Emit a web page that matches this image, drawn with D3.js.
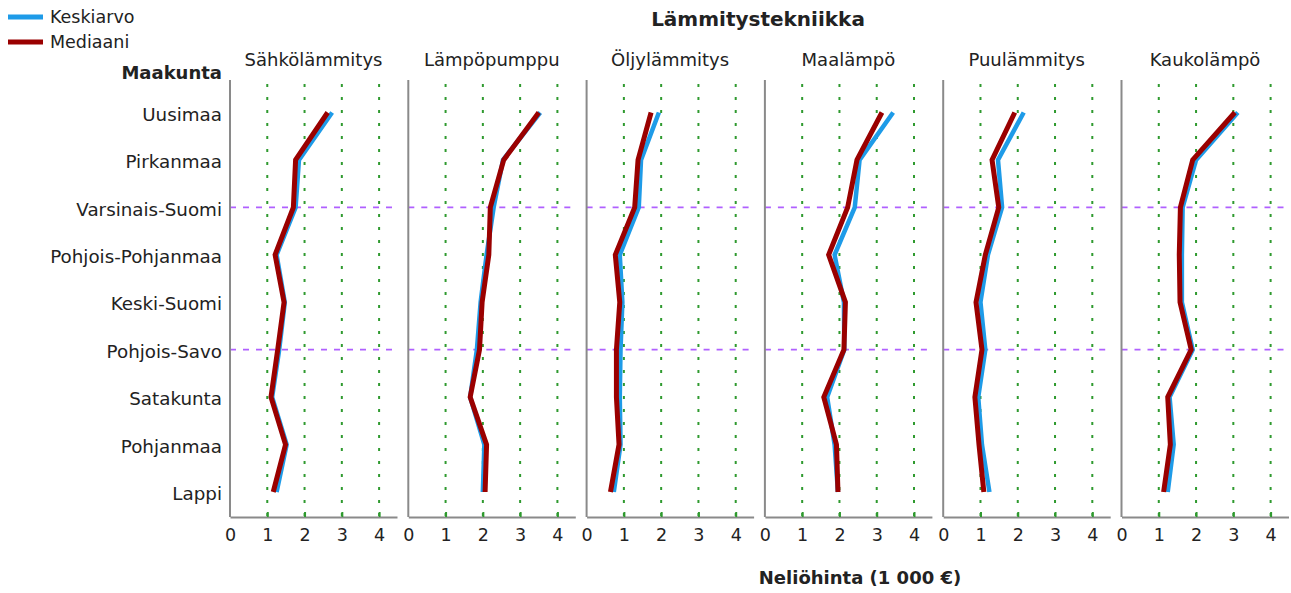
<!DOCTYPE html>
<html>
  <head>
    <meta charset="utf-8">
    <title>Lämmitystekniikka</title>
    <style>
      body { margin: 0; background: #fff; }
      text { font-family: "DejaVu Sans", sans-serif; fill: #222; }
    </style>
  </head>
  <body>
    <div id="chart"></div>
    <script src="https://cdn.jsdelivr.net/npm/d3@7"></script>
    <script>
      // regions (top to bottom) and heating types (panels)
      var regions = ['Uusimaa', 'Pirkanmaa', 'Varsinais-Suomi', 'Pohjois-Pohjanmaa',
        'Keski-Suomi', 'Pohjois-Savo', 'Satakunta', 'Pohjanmaa', 'Lappi'];
      var heating = ['Sähkölämmitys', 'Lämpöpumppu', 'Öljylämmitys', 'Maalämpö',
        'Puulämmitys', 'Kaukolämpö'];
      var refRegions = ['Varsinais-Suomi', 'Pohjois-Savo'];
      var xTicks = [0, 1, 2, 3, 4];

      // price per m2, 1000 € — mean (Keskiarvo) per panel, in region order
      var meanSahko = [2.74, 1.85, 1.76, 1.25, 1.47, 1.32, 1.13, 1.52, 1.25];
      var meanPumppu = [3.54, 2.54, 2.29, 2.10, 1.94, 1.84, 1.66, 2.04, 2.00];
      var meanOljy = [1.94, 1.46, 1.40, 0.89, 0.96, 0.91, 0.89, 0.91, 0.73];
      var meanMaa = [3.44, 2.54, 2.41, 1.87, 2.12, 2.13, 1.67, 1.87, 1.96];
      var meanPuu = [2.16, 1.47, 1.58, 1.20, 1.00, 1.13, 0.94, 1.04, 1.24];
      var meanKauko = [3.12, 2.00, 1.64, 1.62, 1.62, 1.91, 1.29, 1.40, 1.24];

      // median (Mediaani)
      var medSahko = [2.62, 1.76, 1.70, 1.21, 1.45, 1.28, 1.10, 1.49, 1.16];
      var medPumppu = [3.50, 2.56, 2.20, 2.16, 1.98, 1.91, 1.66, 2.10, 2.06];
      var medOljy = [1.73, 1.38, 1.29, 0.77, 0.89, 0.80, 0.80, 0.87, 0.64];
      var medMaa = [3.14, 2.47, 2.22, 1.71, 2.16, 2.12, 1.58, 1.92, 1.96];
      var medPuu = [1.92, 1.31, 1.49, 1.13, 0.88, 1.04, 0.85, 0.96, 1.09];
      var medKauko = [3.04, 1.91, 1.58, 1.55, 1.57, 1.87, 1.24, 1.31, 1.13];

      var means = [meanSahko, meanPumppu, meanOljy, meanMaa, meanPuu, meanKauko];
      var medians = [medSahko, medPumppu, medOljy, medMaa, medPuu, medKauko];

      var width = 1291, height = 593;
      var blue = '#1e9be8', red = '#9a0000';
      var plotTop = 80, plotBottom = 517;

      var svg = d3.select('#chart').append('svg')
        .attr('width', width).attr('height', height);

      var panel = d3.scaleBand().domain(heating)
        .range([230, 1288.5]).paddingInner(0.0634);
      var x = d3.scaleLinear().domain([0, 4.48]).range([0, panel.bandwidth()]);
      var y = d3.scalePoint().domain(regions).range([112.5, 492]);

      // titles
      svg.append('text').attr('x', 758).attr('y', 26)
        .attr('text-anchor', 'middle').style('font-weight', 'bold').style('font-size', '20px')
        .text('Lämmitystekniikka');
      svg.append('text').attr('x', 860).attr('y', 584)
        .attr('text-anchor', 'middle').style('font-weight', 'bold').style('font-size', '18px')
        .text('Neliöhinta (1 000 €)');
      svg.append('text').attr('x', 222).attr('y', 79)
        .attr('text-anchor', 'end').style('font-weight', 'bold').style('font-size', '18px')
        .text('Maakunta');

      // region labels
      svg.selectAll('.region').data(regions).enter().append('text')
        .attr('class', 'region')
        .attr('x', 222).attr('y', function(d) { return y(d); })
        .attr('dy', '0.45em').attr('text-anchor', 'end').style('font-size', '18.3px')
        .text(function(d) { return d; });

      // legend
      var legend = svg.selectAll('.legend').data([['Keskiarvo', blue], ['Mediaani', red]])
        .enter().append('g').attr('class', 'legend')
        .attr('transform', function(d, i) { return 'translate(0,' + (17 + i * 25) + ')'; });
      legend.append('line').attr('x1', 8).attr('x2', 43)
        .attr('stroke', function(d) { return d[1]; }).attr('stroke-width', 5);
      legend.append('text').attr('x', 50).attr('dy', '0.36em').style('font-size', '17.5px')
        .text(function(d) { return d[0]; });

      var line = d3.line()
        .x(function(d) { return x(d.v); })
        .y(function(d) { return y(d.r); });

      heating.forEach(function(h, p) {
        var g = svg.append('g').attr('transform', 'translate(' + panel(h) + ',0)');
        var w = panel.bandwidth();

        g.append('text').attr('x', w / 2).attr('y', 66)
          .attr('text-anchor', 'middle').style('font-size', '18px').text(h);

        // dotted green gridlines
        g.selectAll('.grid').data(xTicks.slice(1)).enter().append('line')
          .attr('x1', x).attr('x2', x).attr('y1', plotTop + 4).attr('y2', plotBottom)
          .attr('stroke', '#2f9a2f').attr('stroke-width', 2).attr('stroke-dasharray', '3,10');

        // purple reference lines
        g.selectAll('.ref').data(refRegions).enter().append('line')
          .attr('x1', 0).attr('x2', w)
          .attr('y1', y).attr('y2', y)
          .attr('stroke', '#b060ff').attr('stroke-width', 1.8).attr('stroke-dasharray', '6,7');

        // axes
        var ax = g.append('g').attr('transform', 'translate(0,' + plotBottom + ')')
          .call(d3.axisBottom(x).tickValues(xTicks).tickSize(0).tickPadding(12).tickFormat(d3.format('d')));
        ax.select('.domain').attr('stroke', '#8a8a8a').attr('stroke-width', 2);
        ax.selectAll('text').style('font-size', '17.5px').attr('fill', '#222')
          .style('font-family', '"DejaVu Sans", sans-serif');
        ax.selectAll('.tick').filter(function(d) { return d > 0; }).append('line')
          .attr('y2', -5).attr('stroke', '#2f9a2f').attr('stroke-width', 2);

        g.append('line').attr('x1', 0).attr('x2', 0).attr('y1', plotTop).attr('y2', plotBottom)
          .attr('stroke', '#8a8a8a').attr('stroke-width', 2);

        var meanPts = regions.map(function(r, i) { return { r: r, v: means[p][i] }; });
        var medPts = regions.map(function(r, i) { return { r: r, v: medians[p][i] }; });

        g.append('path').datum(meanPts).attr('d', line)
          .attr('fill', 'none').attr('stroke', blue).attr('stroke-width', 4.5)
          .attr('stroke-linejoin', 'miter');
        g.append('path').datum(medPts).attr('d', line)
          .attr('fill', 'none').attr('stroke', red).attr('stroke-width', 5)
          .attr('stroke-linejoin', 'miter');
      });
    </script>
  </body>
</html>
